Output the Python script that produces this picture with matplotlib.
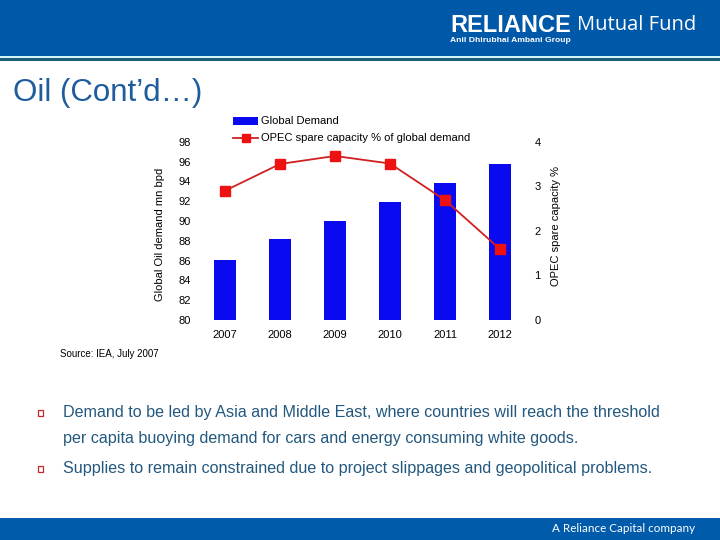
import matplotlib
matplotlib.use("Agg")
import matplotlib.pyplot as plt
from matplotlib.patches import Rectangle
from matplotlib.lines import Line2D

plt.rcParams['font.family'] = ['Liberation Sans', 'DejaVu Sans']

years = ['2007', '2008', '2009', '2010', '2011', '2012']
demand = [86.1, 88.2, 90.0, 91.9, 93.8, 95.7]
opec_spare = [2.9, 3.5, 3.68, 3.51, 2.69, 1.59]
left_ticks = [80, 82, 84, 86, 88, 90, 92, 94, 96, 98]
right_ticks = [0, 1, 2, 3, 4]

W, H = 720, 540
fig = plt.figure(figsize=(7.2, 5.4), dpi=100)
fig.patch.set_facecolor('white')

def fx(x):
    return x / W

def fy(y):
    return 1 - y / H

# header
fig.patches.append(Rectangle((0, fy(56)), 1, 56 / H, transform=fig.transFigure,
                             facecolor='#0058A8', edgecolor='none'))
fig.patches.append(Rectangle((0, fy(58)), 1, 2 / H, transform=fig.transFigure,
                             facecolor='#CFF3F7', edgecolor='none'))
fig.patches.append(Rectangle((0, fy(61)), 1, 3 / H, transform=fig.transFigure,
                             facecolor='#1B5F78', edgecolor='none'))
fig.text(fx(450), fy(25), 'RELIANCE', color='white', fontsize=17, fontweight='bold',
         va='center', ha='left')
fig.text(fx(577), fy(25), 'Mutual Fund', color='white', fontsize=14.5,
         va='center', ha='left', family=['Open Sans', 'DejaVu Sans'])
fig.text(fx(450), fy(41), 'Anil Dhirubhai Ambani Group', color='white', fontsize=6.1,
         fontweight='bold', va='center', ha='left')

# footer
fig.patches.append(Rectangle((0, 0), 1, 22 / H, transform=fig.transFigure,
                             facecolor='#005BAA', edgecolor='none'))
fig.text(fx(695), fy(529), 'A Reliance Capital company', color='white', fontsize=8.4,
         va='center', ha='right', family=['Lato', 'DejaVu Sans'])

# title
fig.text(fx(13), fy(93), 'Oil (Cont\u2019d\u2026)', color='#1E5C9C', fontsize=22.5,
         va='center', ha='left')

# chart
ax = fig.add_axes([fx(197.5), fy(320), 330 / W, (320 - 141.7) / H])
x = list(range(len(years)))
ax.bar(x, [d - 80 for d in demand], bottom=80, width=0.4, color='#0A0AF0',
       label='Global Demand', zorder=2)
ax.set_ylim(80, 98)
ax.set_xlim(-0.5, 5.5)
ax.set_yticks(left_ticks)
ax.set_xticks(x)
ax.set_xticklabels(years)
for s in ax.spines.values():
    s.set_visible(False)
ax.tick_params(axis='y', length=0, pad=5, labelsize=8)
ax.tick_params(axis='x', length=0, pad=7, labelsize=8)
ax.set_ylabel('Global Oil demand mn bpd', fontsize=8)
ax.yaxis.set_label_coords((165 - 197.5) / 330, 0.48)

ax2 = ax.twinx()
ax2.plot(x, opec_spare, color='#D02020', lw=1.3, marker='s', markersize=6.5,
         markerfacecolor='#EE1111', markeredgecolor='#EE1111', zorder=3)
ax2.set_ylim(0, 4)
ax2.set_yticks(right_ticks)
for s in ax2.spines.values():
    s.set_visible(False)
ax2.tick_params(axis='y', length=0, pad=5, labelsize=8)
ax2.set_ylabel('OPEC spare capacity %', fontsize=8)
ax2.yaxis.set_label_coords((551 - 197.5) / 330, 0.53)

handles = [Rectangle((0, 0), 1, 1, facecolor='#0A0AF0', edgecolor='none'),
           Line2D([0], [0], color='#D02020', lw=1.3, marker='s', markersize=5.5,
                  markerfacecolor='#EE1111', markeredgecolor='#EE1111')]
fig.legend(handles, ['Global Demand', 'OPEC spare capacity % of global demand'],
           loc='upper left', bbox_to_anchor=(fx(233), fy(116.5)), frameon=False,
           fontsize=8, handlelength=2.25, handletextpad=0.27, labelspacing=0.62,
           borderpad=0, borderaxespad=0)

# source
fig.text(fx(60), fy(354), 'Source: IEA, July 2007', fontsize=7, va='center', ha='left')

# bullets
txt_color = '#23587E'
for yb in (413, 469):
    fig.patches.append(Rectangle((fx(38), fy(yb + 3)), 5 / W, 6 / H,
                                 transform=fig.transFigure,
                                 facecolor='none', edgecolor='#C0282D', lw=0.9))
fig.text(fx(63), fy(413), 'Demand to be led by Asia and Middle East, where countries will reach the threshold',
         color=txt_color, fontsize=11.6, va='center', ha='left')
fig.text(fx(63), fy(438), 'per capita buoying demand for cars and energy consuming white goods.',
         color=txt_color, fontsize=11.6, va='center', ha='left')
fig.text(fx(63), fy(469), 'Supplies to remain constrained due to project slippages and geopolitical problems.',
         color=txt_color, fontsize=11.6, va='center', ha='left')

fig.savefig('out.png', dpi=100)
